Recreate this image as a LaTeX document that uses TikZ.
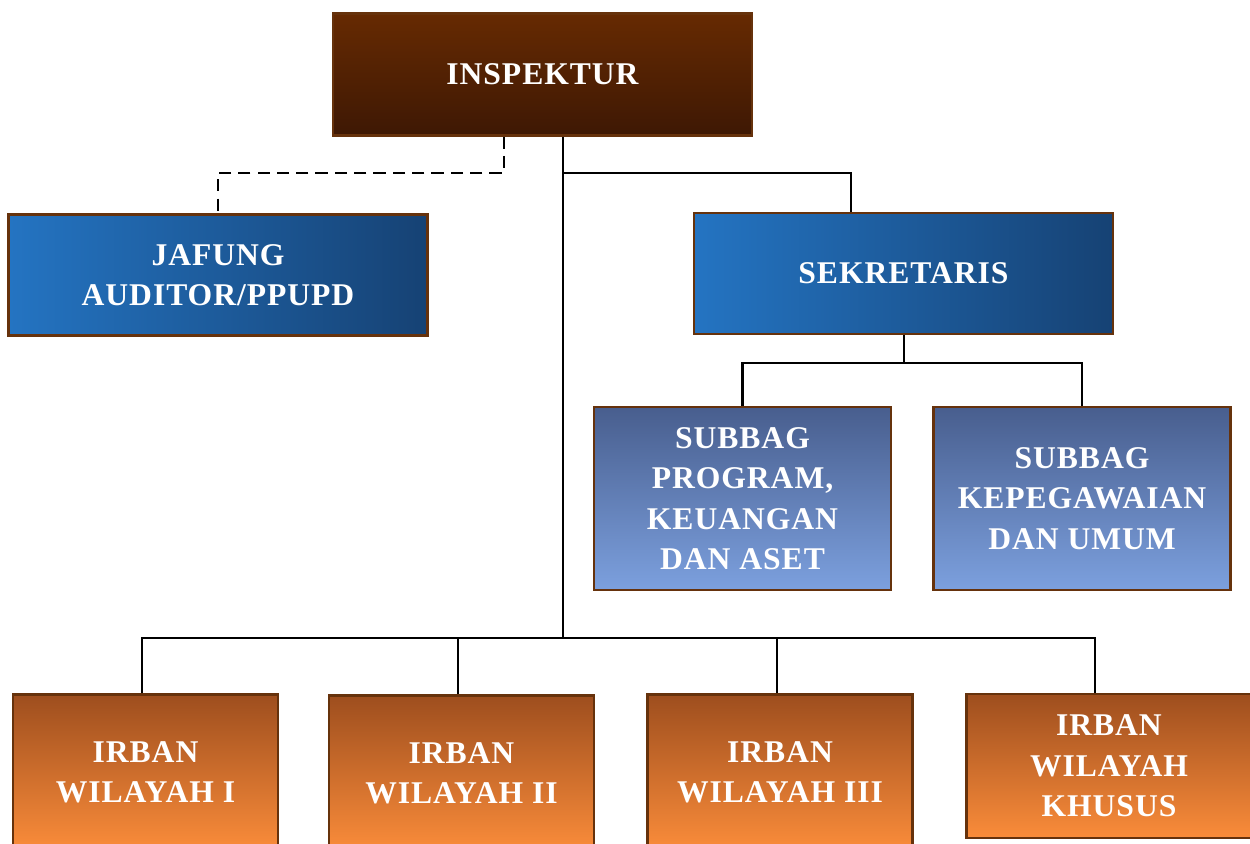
\documentclass[tikz,border=0pt]{standalone}
\usepackage{fontspec}
\setmainfont[LetterSpace=3]{Liberation Serif}
\usepackage{tikz}
\usepackage{xcolor}
\usetikzlibrary{calc,shapes}
\definecolor{boxborder}{RGB}{102,50,12}
\definecolor{inspTop}{RGB}{102,42,2}
\definecolor{inspBottom}{RGB}{62,24,4}
\definecolor{sekLeft}{RGB}{36,116,194}
\definecolor{sekRight}{RGB}{22,66,116}
\definecolor{subTop}{RGB}{72,94,142}
\definecolor{subBottom}{RGB}{124,160,222}
\definecolor{irbTop}{RGB}{158,78,30}
\definecolor{irbBottom}{RGB}{250,140,58}
\tikzset{every scope/.style={line width=1.2pt}}
\tikzstyle{unit_box} =
  [ rectangle
  , draw=boxborder
  , line width=1.3pt
  , text=white
  , align=center
  , font=\fontsize{18}{23}\selectfont\bfseries
  ]
\tikzstyle{head_state} =
  [ unit_box
  , top color=inspTop
  , bottom color=inspBottom
  , minimum width=8.38cm
  , minimum height=2.44cm
  ]
\tikzstyle{staff_state} =
  [ unit_box
  , left color=sekLeft
  , right color=sekRight
  , minimum width=8.38cm
  , minimum height=2.42cm
  ]
\tikzstyle{subbag_state} =
  [ unit_box
  , top color=subTop
  , bottom color=subBottom
  , minimum width=5.94cm
  , minimum height=3.66cm
  ]
\tikzstyle{irban_state} =
  [ unit_box
  , top color=irbTop
  , bottom color=irbBottom
  , minimum width=5.3cm
  , minimum height=3.1cm
  ]
\def\Inspektur{INSPEKTUR}
\def\Jafung{JAFUNG\\AUDITOR/PPUPD}
\def\Sekretaris{SEKRETARIS}
\def\SubbagProgram{SUBBAG\\PROGRAM,\\KEUANGAN\\DAN ASET}
\def\SubbagKepeg{SUBBAG\\KEPEGAWAIAN\\DAN UMUM}
\def\IrbanA{IRBAN\\WILAYAH I}
\def\IrbanB{IRBAN\\WILAYAH II}
\def\IrbanC{IRBAN\\WILAYAH III}
\def\IrbanD{IRBAN\\WILAYAH\\KHUSUS}
\begin{document}
\begin{tikzpicture}[x=0.02cm,y=-0.02cm]
    \useasboundingbox (0,0) rectangle (1250,843);
    \node[head_state]   (Inspektur)     at ( 542.5,  74.5) {\Inspektur};
    \node[staff_state]  (Jafung)        at ( 218,   275)   {\Jafung};
    \node[staff_state]  (Sekretaris)    at ( 903.5, 273.5) {\Sekretaris};
    \node[subbag_state] (SubbagProgram) at ( 742.5, 498.5) {\SubbagProgram};
    \node[subbag_state] (SubbagKepeg)   at (1082,   498.5) {\SubbagKepeg};
    \node[irban_state]  (IrbanA)        at ( 145.5, 772)   {\IrbanA};
    \node[irban_state]  (IrbanB)        at ( 461.5, 773)   {\IrbanB};
    \node[irban_state]  (IrbanC)        at ( 780,   772)   {\IrbanC};
    \node[irban_state, minimum width=5.7cm, minimum height=2.88cm] (IrbanD) at (1109, 766) {\IrbanD};

    \coordinate (bus)      at (563, 638);
    \coordinate (sekjoin)  at (851, 173);
    \coordinate (dashjoin) at (504, 173);
    \coordinate (subjoin)  at (904, 363);
    \coordinate (busA)     at (142, 638);
    \coordinate (busB)     at (458, 638);
    \coordinate (busC)     at (777, 638);
    \coordinate (busD)     at (1095, 638);

    \draw (Inspektur.south -| bus) -- (bus);
    \draw (sekjoin -| bus) -- (sekjoin) -- (Sekretaris.north -| sekjoin);
    \draw[dash pattern=on 7pt off 4pt] (Inspektur.south -| dashjoin) -- (dashjoin) -| (Jafung.north);

    \draw (Sekretaris.south -| subjoin) -- (subjoin);
    \draw (SubbagProgram.north) |- (subjoin) -| (SubbagKepeg.north);

    \draw (IrbanA.north -| busA) -- (busA) -- (busD) -- (IrbanD.north -| busD);
    \draw (IrbanB.north -| busB) -- (busB);
    \draw (IrbanC.north -| busC) -- (busC);
  \end{tikzpicture}
\end{document}
